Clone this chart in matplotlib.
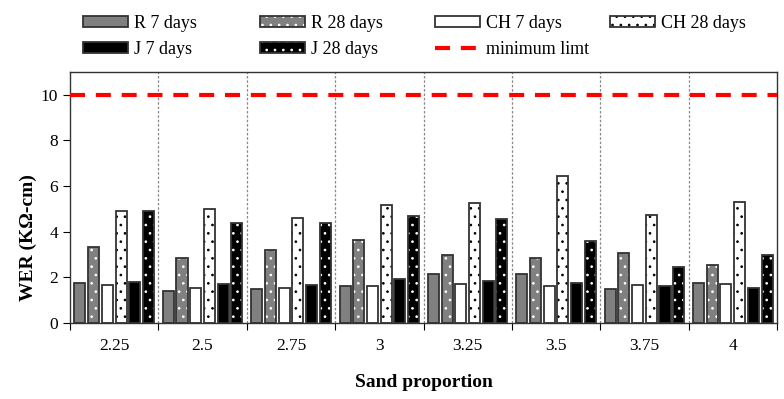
import matplotlib
matplotlib.use("Agg")
import matplotlib.pyplot as plt
import numpy as np
from matplotlib.patches import Patch
from matplotlib.lines import Line2D

categories = ["2.25", "2.5", "2.75", "3", "3.25", "3.5", "3.75", "4"]
r7 = [1.75, 1.4, 1.5, 1.6, 2.15, 2.15, 1.5, 1.75]
r28 = [3.33, 2.85, 3.2, 3.65, 2.98, 2.85, 3.05, 2.55]
ch7 = [1.67, 1.55, 1.55, 1.6, 1.7, 1.6, 1.65, 1.7]
ch28 = [4.9, 5.0, 4.6, 5.15, 5.25, 6.45, 4.75, 5.3]
j7 = [1.8, 1.7, 1.65, 1.95, 1.85, 1.75, 1.6, 1.55]
j28 = [4.9, 4.4, 4.4, 4.7, 4.55, 3.6, 2.45, 3.0]
min_limit = 10

plt.rcParams['font.family'] = ['Liberation Serif']
plt.rcParams['hatch.linewidth'] = 0.7

fig = plt.figure(figsize=(7.84, 3.99), dpi=100)
ax = fig.add_axes([70/784, 1-323/399, 707/784, 251/399])

series = [
    (r7, "R 7 days", "#808080", None, None),
    (r28, "R 28 days", "#808080", "..", "white"),
    (ch7, "CH 7 days", "white", None, None),
    (ch28, "CH 28 days", "white", "..", "black"),
    (j7, "J 7 days", "black", None, None),
    (j28, "J 28 days", "black", "..", "white"),
]
x = np.arange(len(categories))
spacing = 0.155
width = 0.125
edge = "#333333"
handles = {}
for i, (vals, label, fc, hatch, hc) in enumerate(series):
    pos = x + (i - 2.5) * spacing
    if hatch:
        ax.bar(pos, vals, width, color=fc, edgecolor=hc, hatch=hatch, linewidth=0, zorder=2)
    else:
        ax.bar(pos, vals, width, color=fc, linewidth=0, zorder=2)
    ax.bar(pos, vals, width, facecolor="none", edgecolor=edge, linewidth=1.3, zorder=3)
    fill = Patch(facecolor=fc, edgecolor=hc if hc else fc, hatch=hatch, linewidth=0)
    outline = Patch(facecolor="none", edgecolor=edge, linewidth=1.3)
    handles[label] = (fill, outline)

dash = (0, (3.6, 2.6))
ax.axhline(min_limit, color="red", linestyle=dash, linewidth=3, zorder=4)
handles["minimum limt"] = Line2D([0], [0], color="red", linestyle=dash, linewidth=3)

for b in np.arange(0.5, len(categories) - 0.5, 1.0):
    ax.axvline(b, color="#888888", linestyle=(0, (2, 1.5)), linewidth=0.9, zorder=1)

ax.set_xlim(-0.5, len(categories) - 0.5)
ax.set_ylim(0, 11)
ax.set_yticks([0, 2, 4, 6, 8, 10])
ax.set_xticks(np.arange(-0.5, len(categories), 1.0))
ax.set_xticklabels([])
ax.set_xticks(x, minor=True)
ax.set_xticklabels(categories, minor=True)
ax.tick_params(axis='x', which='minor', length=0, pad=11, labelsize=12.5)
ax.tick_params(axis='x', which='major', length=5, direction='out')
ax.tick_params(axis='y', length=5, direction='out', labelsize=12.5)
for s in ax.spines.values():
    s.set_linewidth(1.0)
    s.set_color("#333333")

ax.set_xlabel("Sand proportion", fontsize=14, fontweight='bold', labelpad=14)
ax.set_ylabel("WER (KΩ-cm)", fontsize=14, fontweight='bold')
ax.yaxis.set_label_coords(-0.046, 0.34)

columns = [["R 7 days", "J 7 days"], ["R 28 days", "J 28 days"],
           ["CH 7 days", "minimum limt"], ["CH 28 days"]]
col_x = [83, 260, 435, 610]
for labels, cx in zip(columns, col_x):
    fig.legend([handles[k] for k in labels], labels, ncol=1, frameon=False,
               loc="upper left", bbox_to_anchor=(cx/784, 1 - 15/399),
               borderpad=0, borderaxespad=0,
               fontsize=13, handlelength=2.5, handleheight=0.6,
               handletextpad=0.3, labelspacing=0.5)

fig.savefig("out.png", dpi=100)
